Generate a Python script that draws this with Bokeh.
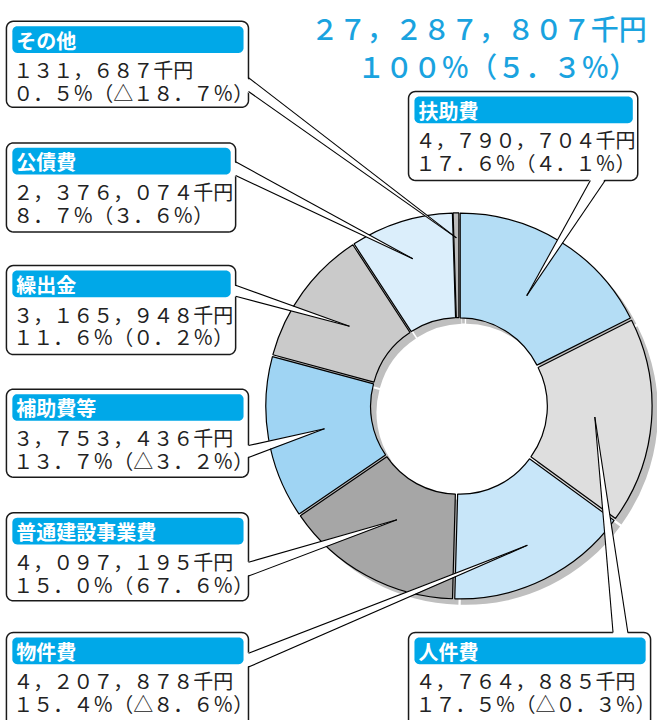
import numpy as np
from bokeh.plotting import figure
from bokeh.models import Range1d, ColumnDataSource
from bokeh.core.properties import value
from bokeh.embed import file_html
from bokeh.resources import INLINE

# ---------------- data ----------------
categories = ["扶助費", "人件費", "物件費", "普通建設事業費", "補助費等", "繰出金", "公債費", "その他"]
amounts = [4790704, 4764885, 4207878, 4097195, 3753436, 3165948, 2376074, 131687]
shares = ["17.6", "17.5", "15.4", "15.0", "13.7", "11.6", "8.7", "0.5"]
changes = ["4.1", "△0.3", "△8.6", "67.6", "△3.2", "0.2", "3.6", "△18.7"]
total_amount = 27287807
total_share = "100"
total_change = "5.3"

# ---------------- styles / layout ----------------
colors = ["#b4ddf5", "#dedede", "#c8e6f9", "#a6a6a6", "#9fd4f3", "#cacaca", "#dbeefb", "#bcbcbc"]
HEADER = "#00a8e8"
TOTAL_COLOR = "#1aa3df"
SHADOW = "#bfbfbf"
FONT = "Noto Sans CJK JP"
FONT_MED = "'Noto Sans CJK JP Medium', 'Noto Sans CJK JP'"

W, H = 665, 728
CX, CY = 464, 410          # donut centre (page px, y down)
R_OUT, R_IN = 193, 87
EXPLODE = 2.5
SH_DX, SH_DY = 6, 6

boxes = {
    "扶助費":       (413, 92, 645, 182),
    "人件費":       (413, 639, 658, 740),
    "物件費":       (6, 639, 251, 740),
    "普通建設事業費": (6, 518, 251, 607),
    "補助費等":      (6, 393, 251, 482),
    "繰出金":       (6, 268, 238, 358),
    "公債費":       (6, 144, 238, 234),
    "その他":       (6, 21, 251, 108),
}
bases = {
    "扶助費":       ((597, 182), (612, 182), (0, -2)),
    "人件費":       ((620, 639), (635, 639), (0, 2)),
    "物件費":       ((251, 660), (251, 674), (-2, 0)),
    "普通建設事業費": ((251, 568), (251, 582), (-2, 0)),
    "補助費等":      ((251, 450), (251, 462), (-2, 0)),
    "繰出金":       ((238, 288), (238, 299), (-2, 0)),
    "公債費":       ((238, 163), (238, 177), (-2, 0)),
    "その他":       ((251, 78), (251, 92), (-2, 0)),
}
apex_r = [131, 138, 157, 131, 138, 137, 156, 170]


def Y(v):
    return H - v


FW = str.maketrans("0123456789,.%()", "０１２３４５６７８９，．％（）")


def fw(s):
    return s.translate(FW)


def rrect(x0, y0, x1, y1, r, n=8):
    xs, ys = [], []
    corners = [(x1 - r, y0 + r, -np.pi / 2, 0), (x1 - r, y1 - r, 0, np.pi / 2),
               (x0 + r, y1 - r, np.pi / 2, np.pi), (x0 + r, y0 + r, np.pi, 1.5 * np.pi)]
    for cx, cy, a0, a1 in corners:
        for t in np.linspace(a0, a1, n):
            xs.append(cx + r * np.cos(t))
            ys.append(Y(cy + r * np.sin(t)))
    return xs, ys


p = figure(width=W - 8, height=H - 8, x_range=Range1d(0, W), y_range=Range1d(0, H),
           output_backend="svg", toolbar_location=None,
           x_axis_location=None, y_axis_location=None, min_border=0)
p.grid.visible = False
p.outline_line_color = None
p.background_fill_color = "white"

# ---------------- donut ----------------
amt = np.array(amounts, dtype=float)
frac = amt / amt.sum()
end = np.cumsum(frac)
start = end - frac
mid = (start + end) / 2
a_start = np.pi / 2 - 2 * np.pi * start
a_end = np.pi / 2 - 2 * np.pi * end
a_mid = np.pi / 2 - 2 * np.pi * mid
wx = CX + EXPLODE * np.cos(a_mid)
wy = Y(CY) + EXPLODE * np.sin(a_mid)

src = ColumnDataSource(dict(x=wx, y=wy, sx=wx + SH_DX, sy=wy - SH_DY,
                            s=a_start, e=a_end, c=colors, cat=categories))
p.annular_wedge(x="sx", y="sy", inner_radius=R_IN, outer_radius=R_OUT,
                start_angle="s", end_angle="e", direction="clock",
                fill_color=SHADOW, line_color=None, source=src)
p.annular_wedge(x="x", y="y", inner_radius=R_IN, outer_radius=R_OUT,
                start_angle="s", end_angle="e", direction="clock",
                fill_color="c", line_color="black", line_width=1.2, source=src)

# ---------------- boxes ----------------
bx, by = [], []
hx, hy = [], []
for cat in categories:
    x0, y0, x1, y1 = boxes[cat]
    xs, ys = rrect(x0, y0, x1, y1, 7)
    bx.append(xs); by.append(ys)
    xs, ys = rrect(x0 + 6, y0 + 5, x1 - 5, y0 + 32, 5)
    hx.append(xs); hy.append(ys)
p.patches(bx, by, fill_color="white", line_color="#1a1a1a", line_width=1.5)

# ---------------- pointers ----------------
px, py, lx, ly = [], [], [], []
for i, cat in enumerate(categories):
    (b1x, b1y), (b2x, b2y), (ix, iy) = bases[cat]
    ax = CX + apex_r[i] * np.cos(a_mid[i])
    ay = Y(CY) + apex_r[i] * np.sin(a_mid[i])
    px.append([b1x + ix, b2x + ix, ax]); py.append([Y(b1y + iy), Y(b2y + iy), ay])
    lx.append([b1x, ax]); ly.append([Y(b1y), ay])
    lx.append([b2x, ax]); ly.append([Y(b2y), ay])
p.patches(px, py, fill_color="white", line_color=None)
p.multi_line(lx, ly, line_color="black", line_width=1.1)

p.patches(hx, hy, fill_color=HEADER, line_color=None)

# ---------------- texts ----------------
tx = ColumnDataSource(dict(
    x=[boxes[c][0] + 10 for c in categories],
    y=[Y(boxes[c][1] + 19) for c in categories],
    t=categories))
p.text(x="x", y="y", text="t", source=tx, text_color="white",
       text_font=value(FONT), text_font_size=value("20px"), text_font_style="bold",
       text_baseline="middle", text_align="left")

l1 = [fw(f"{a:,}") + "千円" for a in amounts]
l2 = [fw(f"{s}%(") + fw(c) + fw("%)") for s, c in zip(shares, changes)]
t2 = ColumnDataSource(dict(
    x=[boxes[c][0] + 7 for c in categories] * 2,
    y=[Y(boxes[c][1] + 49) for c in categories] + [Y(boxes[c][1] + 72) for c in categories],
    t=l1 + l2))
p.text(x="x", y="y", text="t", source=t2, text_color="#222222",
       text_font=value(FONT), text_font_size=value("20px"),
       text_baseline="middle", text_align="left")

tt = ColumnDataSource(dict(
    x=[314, 361], y=[Y(28), Y(66)],
    t=[fw(f"{total_amount:,}") + "千円", fw(f"{total_share}%({total_change}%)")]))
p.text(x="x", y="y", text="t", source=tt, text_color=TOTAL_COLOR,
       text_font=value(FONT_MED), text_font_size=value("28px"),
       text_baseline="middle", text_align="left")

open("out.html", "w").write(file_html(p, INLINE))
